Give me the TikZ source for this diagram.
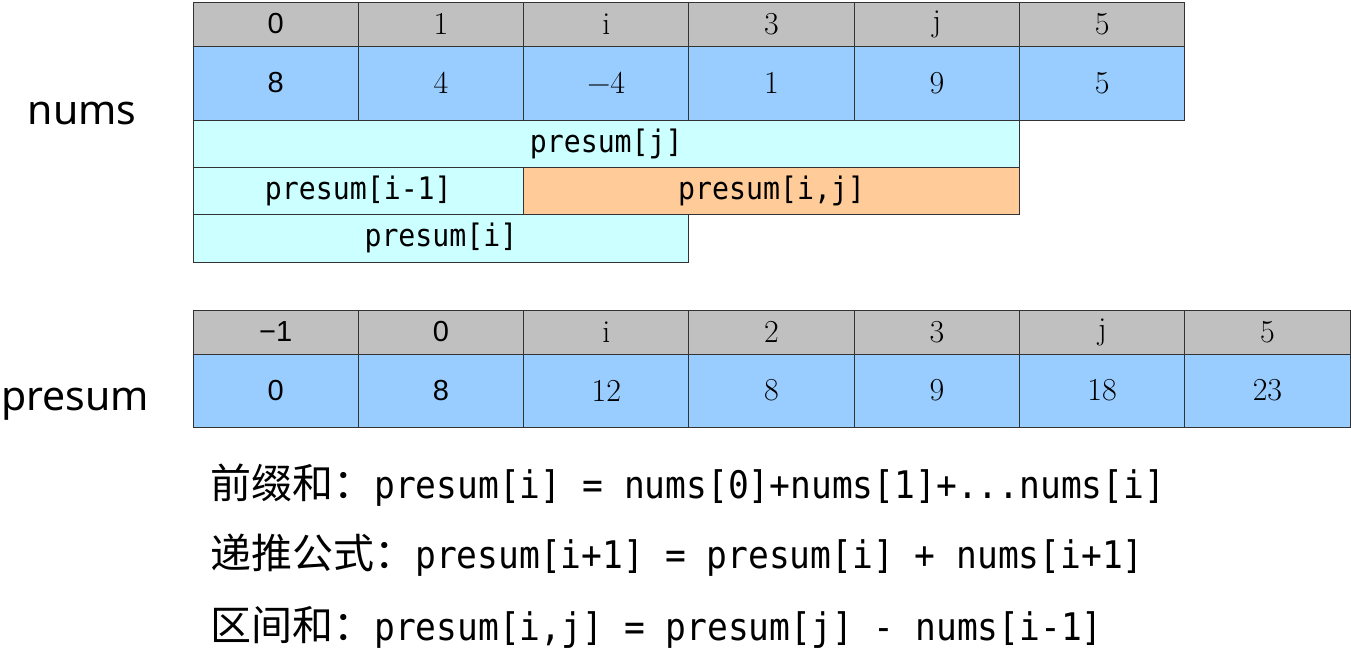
\documentclass[tikz,border=0pt]{standalone}
\usepackage{fontspec}
\usepackage{tikz}
\usetikzlibrary{positioning}
\newfontfamily\arialf{Liberation Sans}
\newfontfamily\cjk{Noto Sans CJK SC}
\newfontfamily\monof[FakeStretch=0.91]{DejaVu Sans Mono}
\newfontfamily\labf{Noto Sans}
\definecolor{hdgray}{HTML}{C0C0C0}
\definecolor{valblue}{HTML}{99CCFF}
\definecolor{sumcyan}{HTML}{CCFFFF}
\definecolor{sumorange}{HTML}{FFCC99}
\newcommand{\sansnum}[1]{{\arialf\fontsize{29}{34}\selectfont #1}}
\begin{document}
\begin{tikzpicture}[x=1pt, y=-1pt, node distance=0pt, cell/.style={draw=black!80, line width=1pt, outer sep=0pt, inner sep=0pt, minimum width=165.3pt, font=\fontsize{32}{36}\selectfont}, hd/.style={cell, fill=hdgray, minimum height=44pt}, val/.style={cell, fill=valblue, minimum height=74pt}, sumrow/.style={cell, fill=sumcyan, minimum height=47pt, anchor=north west, font=\monof\fontsize{31}{36}\selectfont}, formula/.style={anchor=west, inner sep=0pt, font=\fontsize{41}{46}\selectfont}, arrname/.style={font=\labf\fontsize{41}{46}\selectfont}]
\useasboundingbox (0,0) rectangle (1351,654);
\node[hd, anchor=north west] at (193,2) (nh0) {\sansnum{0}};
\node[hd, right=of nh0] (nh1) {1};
\node[hd, right=of nh1] (nh2) {i};
\node[hd, right=of nh2] (nh3) {3};
\node[hd, right=of nh3] (nh4) {j};
\node[hd, right=of nh4] (nh5) {5};
\node[val, below=of nh0] (nv0) {\sansnum{8}};
\node[val, below=of nh1] (nv1) {4};
\node[val, below=of nh2] (nv2) {−4};
\node[val, below=of nh3] (nv3) {1};
\node[val, below=of nh4] (nv4) {9};
\node[val, below=of nh5] (nv5) {5};
\node[sumrow, minimum width=826.5pt] at (nv0.south west) (sj) {presum[j]};
\node[sumrow, minimum width=330.6pt] at (sj.south west) (sim) {presum[i-1]};
\node[sumrow, fill=sumorange, minimum width=495.9pt] at (sim.north east) (sij) {presum[i,j]};
\node[sumrow, minimum width=495.9pt, minimum height=48pt] at (sim.south west) (si) {presum[i]};
\node[hd, anchor=north west] at (193,310) (ph0) {\sansnum{−1}};
\node[hd, right=of ph0] (ph1) {\sansnum{0}};
\node[hd, right=of ph1] (ph2) {i};
\node[hd, right=of ph2] (ph3) {2};
\node[hd, right=of ph3] (ph4) {3};
\node[hd, right=of ph4] (ph5) {j};
\node[hd, right=of ph5] (ph6) {5};
\node[val, minimum height=73pt, below=of ph0] (pv0) {\sansnum{0}};
\node[val, minimum height=73pt, below=of ph1] (pv1) {\sansnum{8}};
\node[val, minimum height=73pt, below=of ph2] (pv2) {12};
\node[val, minimum height=73pt, below=of ph3] (pv3) {8};
\node[val, minimum height=73pt, below=of ph4] (pv4) {9};
\node[val, minimum height=73pt, below=of ph5] (pv5) {18};
\node[val, minimum height=73pt, below=of ph6] (pv6) {23};
\node[arrname] at (82,114) (lnums) {nums};
\node[arrname] at (75,404) (lpresum) {presum};
\node[formula] at (210,485) (f1) {{\cjk 前缀和：}{\monof\fontsize{38}{46}\selectfont presum[i] = nums[0]+nums[1]+...nums[i]}};
\node[formula] at (210,555) (f2) {{\cjk 递推公式：}{\monof\fontsize{38}{46}\selectfont presum[i+1] = presum[i] + nums[i+1]}};
\node[formula] at (210,627) (f3) {{\cjk 区间和：}{\monof\fontsize{38}{46}\selectfont presum[i,j] = presum[j] - nums[i-1]}};
\end{tikzpicture}
\end{document}
